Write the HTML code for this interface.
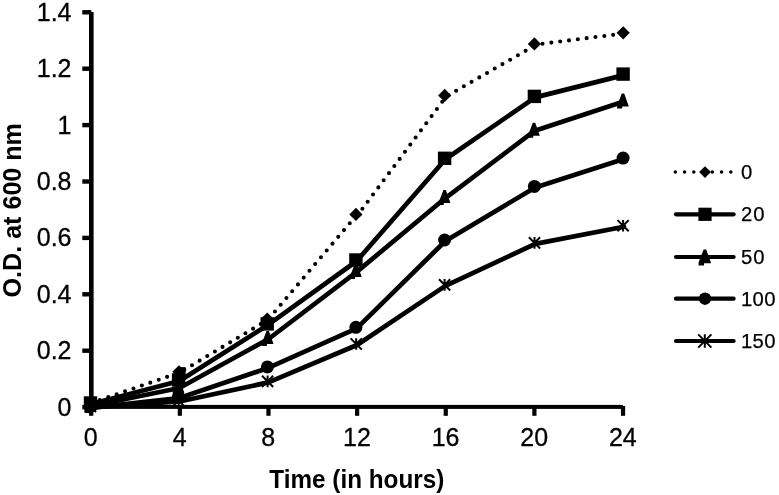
<!DOCTYPE html>
<html lang="en"><head><meta charset="utf-8"><title>Growth curve</title>
<style>html,body{margin:0;padding:0;background:#fff}svg{display:block}</style>
</head><body>
<svg width="779" height="495" viewBox="0 0 779 495">
<rect width="779" height="495" fill="#fff"/>
<g fill="#000">
<rect x="89" y="12" width="4.6" height="397"/>
<rect x="89" y="404.9" width="533.9" height="4"/>
<rect x="82.3" y="404.9" width="9" height="4.4"/>
<rect x="82.3" y="348.5" width="9" height="4.4"/>
<rect x="82.3" y="292.1" width="9" height="4.4"/>
<rect x="82.3" y="235.7" width="9" height="4.4"/>
<rect x="82.3" y="179.3" width="9" height="4.4"/>
<rect x="82.3" y="122.9" width="9" height="4.4"/>
<rect x="82.3" y="66.5" width="9" height="4.4"/>
<rect x="82.3" y="10.1" width="9" height="4.4"/>
<rect x="89.1" y="406" width="4.2" height="9.8"/>
<rect x="177.74" y="406" width="4.2" height="9.8"/>
<rect x="266.38" y="406" width="4.2" height="9.8"/>
<rect x="355.02" y="406" width="4.2" height="9.8"/>
<rect x="443.66" y="406" width="4.2" height="9.8"/>
<rect x="532.3" y="406" width="4.2" height="9.8"/>
<rect x="620.94" y="406" width="4.2" height="9.8"/>
</g>
<g font-family="'Liberation Sans', sans-serif" font-size="25" fill="#000" stroke="#000" stroke-width="0.3">
<text x="71.5" y="415.5" text-anchor="end">0</text>
<text x="71.5" y="359.1" text-anchor="end">0.2</text>
<text x="71.5" y="302.7" text-anchor="end">0.4</text>
<text x="71.5" y="246.3" text-anchor="end">0.6</text>
<text x="71.5" y="189.9" text-anchor="end">0.8</text>
<text x="71.5" y="133.5" text-anchor="end">1</text>
<text x="71.5" y="77.1" text-anchor="end">1.2</text>
<text x="71.5" y="20.7" text-anchor="end">1.4</text>
<text x="90.7" y="445.9" text-anchor="middle">0</text>
<text x="179.64" y="445.9" text-anchor="middle">4</text>
<text x="268.28" y="445.9" text-anchor="middle">8</text>
<text x="356.92" y="445.9" text-anchor="middle">12</text>
<text x="445.56" y="445.9" text-anchor="middle">16</text>
<text x="534.2" y="445.9" text-anchor="middle">20</text>
<text x="622.84" y="445.9" text-anchor="middle">24</text>
</g>
<g font-family="'Liberation Sans', sans-serif" font-weight="bold" font-size="25.5" fill="#000">
<text x="269.3" y="487.8" textLength="175" lengthAdjust="spacingAndGlyphs">Time (in hours)</text>
<text transform="translate(20.9 297.4) rotate(-90)" textLength="174.3" lengthAdjust="spacingAndGlyphs">O.D. at 600 nm</text>
</g>
<g fill="none" stroke="#000" stroke-linejoin="round" stroke-linecap="round">
<line x1="91.3" y1="403" x2="179.8" y2="372.5" stroke-width="4.1" stroke-dasharray="0 8.9" stroke-dashoffset="8.8"/>
<line x1="179.8" y1="372.5" x2="268" y2="319.7" stroke-width="4.1" stroke-dasharray="0 8.9" stroke-dashoffset="3.59"/>
<line x1="268" y1="319.7" x2="356.7" y2="215.1" stroke-width="4.1" stroke-dasharray="0 8.9" stroke-dashoffset="7.1"/>
<line x1="357.7" y1="215.1" x2="446.5" y2="96.1" stroke-width="4.1" stroke-dasharray="0 8.9" stroke-dashoffset="1.05"/>
<line x1="445.8" y1="96.65" x2="535.5" y2="45.15" stroke-width="4.1" stroke-dasharray="0 8.9" stroke-dashoffset="5.87"/>
<line x1="535.2" y1="44.6" x2="624" y2="33.5" stroke-width="4.1" stroke-dasharray="0 8.9" stroke-dashoffset="1.54"/>
<polyline points="91.3,404 179.4,381 268,324.9 356.7,261 445.4,159.3 535.2,97.4 623.9,75.1" stroke-width="4.7"/>
<polyline points="91.3,406 179.4,388 268.5,339 356.7,271.9 445.4,198.05 534.8,130.7 623.8,101.4" stroke-width="4.7"/>
<polyline points="90.8,407.8 179.4,398 268.2,367.9 356.7,328.3 445.4,241 535.2,187.4 623.9,159.1" stroke-width="4.7"/>
<polyline points="91.3,407.5 179.4,401.5 268.4,382.4 357,345 445.4,285.9 535.3,243.9 623.9,226.7" stroke-width="4.7"/>
</g>
<g fill="#000">
<rect x="178.5" y="367.1" width="7.1" height="13"/>
<polygon points="90.5,395.7 97.1,402.3 90.5,408.9 83.9,402.3"/>
<polygon points="179,365.2 185.6,371.8 179,378.4 172.4,371.8"/>
<polygon points="267.2,312.4 273.8,319 267.2,325.6 260.6,319"/>
<polygon points="355.9,207.8 362.5,214.4 355.9,221 349.3,214.4"/>
<polygon points="444.7,88.8 451.3,95.4 444.7,102 438.1,95.4"/>
<polygon points="534.4,37.3 541,43.9 534.4,50.5 527.8,43.9"/>
<polygon points="623.2,26.2 629.8,32.8 623.2,39.4 616.6,32.8"/>
<rect x="83.8" y="396.3" width="13.4" height="13.4"/>
<rect x="171.9" y="373.3" width="13.4" height="13.4"/>
<rect x="260.5" y="317.2" width="13.4" height="13.4"/>
<rect x="349.2" y="253.3" width="13.4" height="13.4"/>
<rect x="437.9" y="151.6" width="13.4" height="13.4"/>
<rect x="527.7" y="89.7" width="13.4" height="13.4"/>
<rect x="616.4" y="67.4" width="13.4" height="13.4"/>
<polygon points="89.3,398 91.7,398 96.1,410.3 96.1,411 89.7,411 89.7,413 84.6,413 84.6,410.3"/>
<polygon points="177.4,380 179.8,380 184.2,392.3 184.2,393 177.8,393 177.8,395 172.7,395 172.7,392.3"/>
<polygon points="266.5,331 268.9,331 273.3,343.3 273.3,344 266.9,344 266.9,346 261.8,346 261.8,343.3"/>
<polygon points="354.7,263.9 357.1,263.9 361.5,276.2 361.5,276.9 355.1,276.9 355.1,278.9 350,278.9 350,276.2"/>
<polygon points="443.4,190.05 445.8,190.05 450.2,202.35 450.2,203.05 443.8,203.05 443.8,205.05 438.7,205.05 438.7,202.35"/>
<polygon points="532.8,122.7 535.2,122.7 539.6,135 539.6,135.7 533.2,135.7 533.2,137.7 528.1,137.7 528.1,135"/>
<polygon points="621.8,93.4 624.2,93.4 628.6,105.7 628.6,106.4 622.2,106.4 622.2,108.4 617.1,108.4 617.1,105.7"/>
<circle cx="90" cy="406.8" r="6.5"/>
<circle cx="178.6" cy="397" r="6.5"/>
<circle cx="267.4" cy="366.9" r="6.5"/>
<circle cx="355.9" cy="327.3" r="6.5"/>
<circle cx="444.6" cy="240" r="6.5"/>
<circle cx="534.4" cy="186.4" r="6.5"/>
<circle cx="623.1" cy="158.1" r="6.5"/>
<path d="M90.5 400.7V412.3M84.9 400.9L96.1 412.1M84.9 412.1L96.1 400.9" fill="none" stroke="#000" stroke-width="2"/>
<path d="M178.6 394.7V406.3M173 394.9L184.2 406.1M173 406.1L184.2 394.9" fill="none" stroke="#000" stroke-width="2"/>
<path d="M267.6 375.6V387.2M262 375.8L273.2 387M262 387L273.2 375.8" fill="none" stroke="#000" stroke-width="2"/>
<path d="M356.2 338.2V349.8M350.6 338.4L361.8 349.6M350.6 349.6L361.8 338.4" fill="none" stroke="#000" stroke-width="2"/>
<path d="M444.6 279.1V290.7M439 279.3L450.2 290.5M439 290.5L450.2 279.3" fill="none" stroke="#000" stroke-width="2"/>
<path d="M534.5 237.1V248.7M528.9 237.3L540.1 248.5M528.9 248.5L540.1 237.3" fill="none" stroke="#000" stroke-width="2"/>
<path d="M623.1 219.9V231.5M617.5 220.1L628.7 231.3M617.5 231.3L628.7 220.1" fill="none" stroke="#000" stroke-width="2"/>
</g>
<g fill="none" stroke="#000" stroke-linecap="round">
<line x1="675.3" y1="172" x2="731" y2="172" stroke-width="3.5" stroke-dasharray="0 9.25"/>
<line x1="676" y1="214.3" x2="733.6" y2="214.3" stroke-width="4.2"/>
<line x1="676" y1="257" x2="733.6" y2="257" stroke-width="4.2"/>
<line x1="676" y1="298.7" x2="733.6" y2="298.7" stroke-width="4.2"/>
<line x1="676" y1="341" x2="733.6" y2="341" stroke-width="4.2"/>
</g>
<g fill="#000">
<polygon points="705,166.2 710.9,172.1 705,178 699.1,172.1"/>
<rect x="698.4" y="207.7" width="13.2" height="13.2"/>
<polygon points="703.62,249.41 706.18,249.41 710.89,262.57 710.89,263.32 704.04,263.32 704.04,265.46 698.59,265.46 698.59,262.57"/>
<circle cx="705" cy="298.7" r="6.2"/>
<path d="M704.8 334.2V347.8M698.2 334.4L711.4 347.6M698.2 347.6L711.4 334.4" fill="none" stroke="#000" stroke-width="2"/>
</g>
<g font-family="'Liberation Sans', sans-serif" font-size="20.3" fill="#000" stroke="#000" stroke-width="0.25">
<text x="741.0" y="179" letter-spacing="0">0</text>
<text x="741.0" y="221.3" letter-spacing="1.0">20</text>
<text x="741.0" y="264" letter-spacing="1.0">50</text>
<text x="741.0" y="305.7" letter-spacing="0.3">100</text>
<text x="741.0" y="348" letter-spacing="0.3">150</text>
</g>
</svg>
</body></html>
